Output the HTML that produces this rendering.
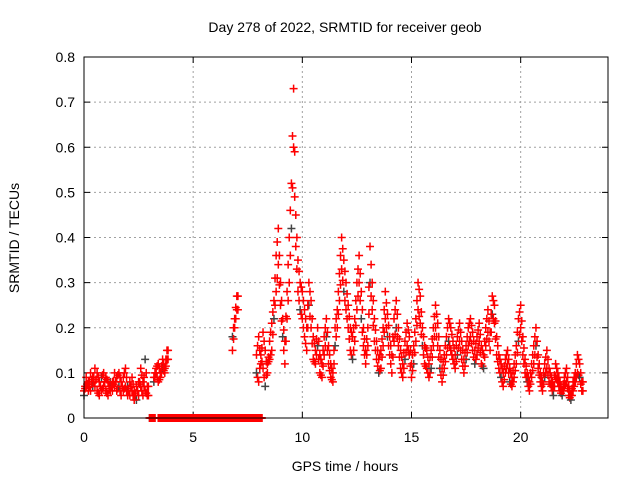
<!DOCTYPE html>
<html><head><meta charset="utf-8"><style>
body{margin:0;background:#fff;}
svg{display:block;font-family:"Liberation Sans",sans-serif;}
</style></head><body>
<svg id="chart" width="640" height="480">
<rect x="0" y="0" width="640" height="480" fill="#fff"/>
<text x="345" y="32" text-anchor="middle" font-size="14">Day 278 of 2022, SRMTID for receiver geob</text>
<text x="345" y="471" text-anchor="middle" font-size="14">GPS time / hours</text>
<text transform="translate(19,238) rotate(-90)" text-anchor="middle" font-size="14">SRMTID / TECUs</text>
<g id="grid"></g><g id="marks"></g>
<rect x="84" y="57" width="524" height="361" fill="none" stroke="#000" stroke-width="1"/>
</svg>
<script>
const xTicks=[0,5,10,15,20];
const yTicks=[0,0.1,0.2,0.3,0.4,0.5,0.6,0.7,0.8];
const yTickLabels=["0","0.1","0.2","0.3","0.4","0.5","0.6","0.7","0.8"];
const segStarts=[0.0,3.2,3.0,6.8,7.9];
const seriesA=[
[0.06,0.07,0.08,0.06,0.09,0.07,0.10,0.08,0.06,0.07,0.09,0.08,0.06,0.08,0.07,0.09,0.10,0.08,0.06,0.07,0.05,0.08,0.06,0.04,0.07,0.05,0.11,0.08,0.06,0.05],
[0.09,0.11,0.12,0.10,0.13,0.11,0.15],
[0,0,0,0,0,0,0,0,0,0,0,0,0,0,0,0,0,0,0,0,0,0,0,0,0,0,0,0,0,0,0,0,0,0,0,0,0,0,0,0,0,0,0,0,0,0,0,0,0,0,0,0],
[0.15,0.20,0.24],
[0.14,0.18,0.12,0.19,0.15,0.10,0.17,0.21,0.26,0.36,0.42,
0.30,0.22,0.17,0.28,0.40,0.52,0.73,0.45,0.35,0.30,
0.28,0.24,0.20,0.30,0.26,0.18,0.15,0.20,0.14,0.12,
0.18,0.22,0.16,0.12,0.10,0.20,0.24,0.32,0.40,0.35,
0.30,0.25,0.20,0.18,0.22,0.30,0.36,0.28,0.20,0.15,
0.20,0.38,0.30,0.22,0.17,0.13,0.15,0.20,0.28,0.23,
0.18,0.14,0.22,0.26,0.20,0.15,0.12,0.17,0.21,0.18,
0.12,0.16,0.22,0.30,0.27,0.20,0.16,0.15,0.12,0.15,
0.20,0.25,0.21,0.15,0.11,0.14,0.18,0.22,0.20,0.17,
0.14,0.18,0.21,0.17,0.13,0.16,0.20,0.22,0.19,0.15,
0.18,0.21,0.16,0.14,0.20,0.24,0.19,0.27,0.25,0.18,
0.14,0.12,0.10,0.13,0.15,0.11,0.09,0.12,0.16,0.22,
0.25,0.18,0.13,0.10,0.08,0.12,0.16,0.20,0.14,0.10,
0.08,0.12,0.15,0.11,0.09,0.07,0.12,0.10,0.08,0.06,
0.09,0.11,0.07,0.05,0.08,0.10,0.14,0.12,0.08]
];
const seriesB=[
[0.05,0.09,0.06,0.10,0.07,0.11,0.06,0.05,0.09,0.10,0.06,0.05,0.08,0.06,0.10,0.06,0.07,0.05,0.09,0.11,0.07,0.05,0.09,0.06,0.04,0.08,0.07,0.05,0.13,0.07],
[0.08,0.10,0.08,0.09,0.11,0.10,0.13],
[0,0,0,0,0,0,0,0,0,0,0,0,0,0,0,0,0,0,0,0,0,0,0,0,0,0,0,0,0,0,0,0,0,0,0,0,0,0,0,0,0,0,0,0,0,0,0,0,0,0,0,0],
[0.18,0.22,0.27],
[0.10,0.08,0.14,0.11,0.07,0.12,0.13,0.15,0.22,0.28,0.34,
0.25,0.18,0.12,0.22,0.30,0.42,0.60,0.38,0.28,0.24,
0.22,0.18,0.15,0.25,0.20,0.13,0.12,0.16,0.10,0.09,
0.14,0.18,0.12,0.09,0.08,0.16,0.20,0.26,0.33,0.28,
0.24,0.20,0.15,0.13,0.17,0.24,0.30,0.22,0.16,0.12,
0.16,0.30,0.24,0.17,0.13,0.10,0.11,0.16,0.22,0.18,
0.14,0.10,0.17,0.20,0.16,0.11,0.09,0.13,0.16,0.14,
0.09,0.12,0.17,0.24,0.21,0.16,0.12,0.11,0.09,0.11,
0.16,0.20,0.16,0.11,0.08,0.11,0.14,0.17,0.15,0.13,
0.11,0.14,0.17,0.13,0.10,0.13,0.16,0.18,0.15,0.12,
0.14,0.17,0.12,0.11,0.16,0.19,0.15,0.23,0.21,0.14,
0.11,0.09,0.07,0.10,0.12,0.08,0.07,0.09,0.12,0.17,
0.20,0.14,0.10,0.08,0.06,0.09,0.12,0.16,0.11,0.08,
0.06,0.09,0.11,0.08,0.07,0.05,0.09,0.08,0.06,0.05,
0.07,0.08,0.05,0.04,0.06,0.08,0.10,0.09,0.06]
];
const segSteps=[0.1,0.1,0.1,0.1,0.1];
const NS="http://www.w3.org/2000/svg";
const X0=84,X1=608,Y0=418,Y1=57,XMAX=24,YMAX=0.8;
function sx(v){return X0+(X1-X0)*v/XMAX;}
function sy(v){return Y0-(Y0-Y1)*v/YMAX;}
const grid=document.getElementById('grid'),marks=document.getElementById('marks');
function mk(tag,attrs,parent){const e=document.createElementNS(NS,tag);for(const k in attrs)e.setAttribute(k,attrs[k]);parent.appendChild(e);return e;}
yTicks.forEach((t,i)=>{
  const y=sy(t);
  if(i>0&&i<yTicks.length-1){const g=mk('line',{x1:X0,x2:X1,y1:y,y2:y,stroke:'#a0a0a0','stroke-dasharray':'2,3'},grid);
  
  }
  mk('line',{x1:X0,x2:X0+6,y1:y,y2:y,stroke:'#000'},grid);
  mk('line',{x1:X1,x2:X1-6,y1:y,y2:y,stroke:'#000'},grid);
  const l=mk('text',{x:X0-9,y:y+5,'text-anchor':'end','font-size':14},grid);l.textContent=yTickLabels[i];
  
  
});
xTicks.forEach(t=>{
  const x=sx(t);
  if(t>0){const g=mk('line',{x1:x,x2:x,y1:Y0,y2:Y1,stroke:'#a0a0a0','stroke-dasharray':'2,3'},grid);
  
  }
  mk('line',{x1:x,x2:x,y1:Y0,y2:Y0-6,stroke:'#000'},grid);
  mk('line',{x1:x,x2:x,y1:Y1,y2:Y1+6,stroke:'#000'},grid);
  const l=mk('text',{x:x,y:Y0+24,'text-anchor':'middle','font-size':14},grid);l.textContent=String(t);
  
  
});
function cross(t,v,color){
  const x=sx(t),y=sy(v);
  const p=mk('path',{d:`M${x-4},${y}H${x+4}M${x},${y-4}V${y+4}`,stroke:color,'stroke-width':1.5,fill:'none'},marks);
  
  
}
[seriesB,seriesA].forEach((ser,si)=>{
  ser.forEach((seg,k)=>{
    seg.forEach((v,i)=>{
      const t=segStarts[k]+segSteps[k]*i;
      if(k===2 && ((t>3.25&&t<3.35)||(t>4.05&&t<4.1))) return;
      cross(t,v,(si===0&&i%4===0)?'#444':'#f00');
      cross(t+0.05,(v+(seg[i+1]!==undefined?seg[i+1]:v))/2,'#f00');
    });
  });
});
</script>
</body></html>
